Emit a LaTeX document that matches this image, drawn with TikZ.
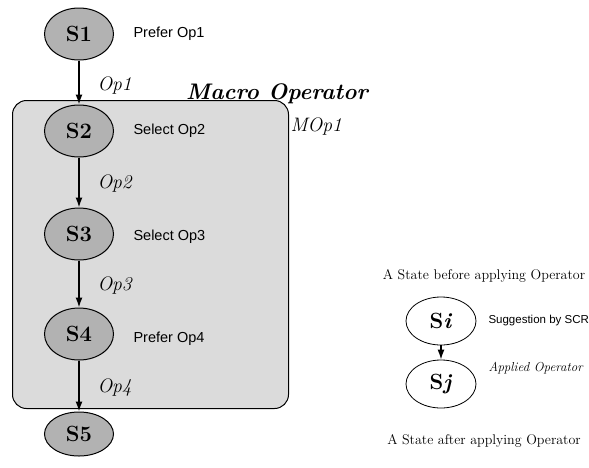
\documentclass[tikz,border=0pt]{standalone}
\usepackage{fontspec}
\newfontfamily\sfl{Liberation Sans}
\usetikzlibrary{shapes.geometric,arrows.meta}
\begin{document}
\begin{tikzpicture}[x=1pt,y=-1pt,
 state/.style={ellipse,draw=black,line width=1pt,fill=gray!60,minimum width=69pt,minimum height=52pt,inner sep=0pt,font=\fontsize{22}{24}\selectfont\bfseries},
 legstate/.style={state,fill=white,line width=0.8pt,minimum width=70pt,minimum height=48pt},
 sug/.style={anchor=west,font=\sfl\fontsize{14.5}{16}\selectfont},
 oplab/.style={anchor=west,font=\fontsize{19.5}{21}\selectfont\itshape},
 arr/.style={-{Latex[length=10pt,width=7pt]},line width=1.4pt},
 legtxt/.style={font=\fontsize{14}{16}\selectfont}]
\useasboundingbox (0,0) rectangle (589,467);
\node[draw, line width=1pt, rounded corners=14pt, fill=gray!28, minimum width=276pt, minimum height=308pt, inner sep=0pt, anchor=north west] (box) at (12,100) {};
\node[state] (s1) at (79,34) {S1};
\node[state] (s2) at (79,131) {S2};
\node[state] (s3) at (79,234) {S3};
\node[state] (s4) at (79,334) {S4};
\node[state,minimum height=44pt] (s5) at (79,434) {S5};
\draw[arr] (s1) -- (s2);
\draw[arr] (s2) -- (s3);
\draw[arr] (s3) -- (s4);
\draw[arr] (s4) -- (s5);
\node[sug] (p1) at (130,34) {Prefer Op1};
\node[sug] (p2) at (130,131) {Select Op2};
\node[sug] (p3) at (130,237) {Select Op3};
\node[sug] (p4) at (130,339) {Prefer Op4};
\node[oplab] (o1) at (94,86) {Op1};
\node[oplab] (o2) at (94,184) {Op2};
\node[oplab] (o3) at (94,286) {Op3};
\node[oplab] (o4) at (94,388) {Op4};
\node[font=\fontsize{22.5}{24}\selectfont\bfseries\itshape] (mo) at (277,94) {Macro Operator};
\node[oplab] (mop) at (287,127) {MOp1};
% legend
\node[legtxt] (before) at (484,276) {A State before applying Operator};
\node[legstate] (si) at (441,321) {S\textit{i}};
\node[legstate] (sj) at (441,384) {S\textit{j}};
\draw[arr] (si) -- (sj);
\node[anchor=west,font=\sfl\fontsize{11.5}{13}\selectfont] (sb) at (485,321) {Suggestion by SCR};
\node[anchor=west,font=\fontsize{13}{15}\selectfont\itshape] (ao) at (485,368) {Applied Operator};
\node[legtxt] (after) at (484,441) {A State after applying Operator};
\end{tikzpicture}
\end{document}
